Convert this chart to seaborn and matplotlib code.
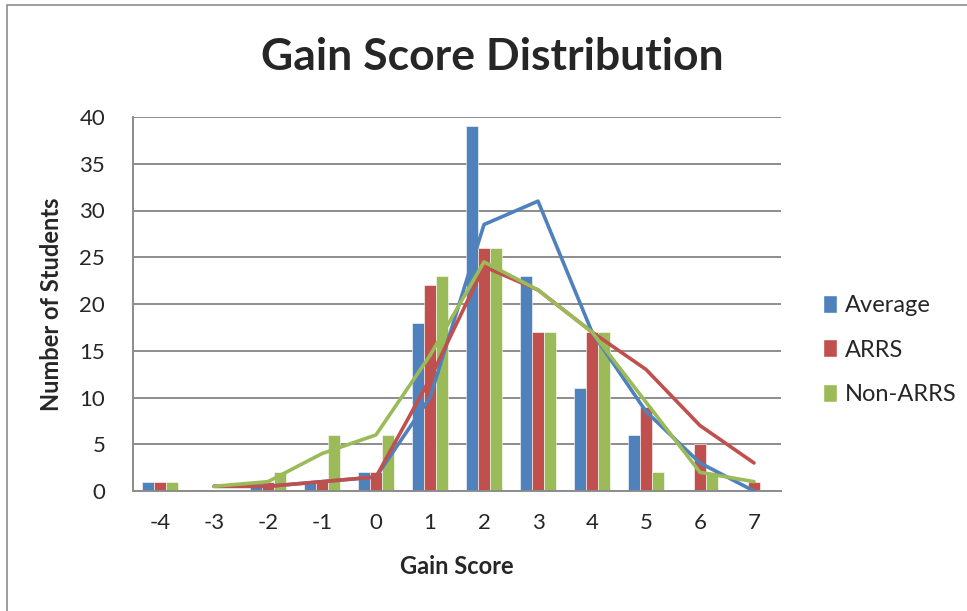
#------------------------------------------------------------------------------
# Libraries
#------------------------------------------------------------------------------

import numpy as np
import pandas as pd
import seaborn as sns
import matplotlib.pyplot as plt
from matplotlib.patches import Patch, Rectangle

#------------------------------------------------------------------------------
# Data
#------------------------------------------------------------------------------

gain_scores = [-4, -3, -2, -1, 0, 1, 2, 3, 4, 5, 6, 7]
average     = [1, 0, 1, 1, 2, 18, 39, 23, 11, 6, 0, 0]
arrs        = [1, 0, 1, 1, 2, 22, 26, 17, 17, 9, 5, 1]
non_arrs    = [1, 0, 2, 6, 6, 23, 26, 17, 17, 2, 2, 0]

groups = ['Average', 'ARRS', 'Non-ARRS']
colors = ['#4F81BD', '#C0504D', '#9BBB59']

#------------------------------------------------------------------------------
# Long format + 2-period moving average trendlines
#------------------------------------------------------------------------------

df = pd.DataFrame({'score': gain_scores,
                   'Average': average,
                   'ARRS': arrs,
                   'Non-ARRS': non_arrs})
long = df.melt(id_vars='score', var_name='group', value_name='count')

trend = df.set_index('score')[groups].rolling(2).mean().reset_index()
trend = trend.melt(id_vars='score', var_name='group', value_name='ma').dropna()

#------------------------------------------------------------------------------
# Plot
#------------------------------------------------------------------------------

sns.set_style('white')
plt.rcParams['font.family'] = ['Lato', 'DejaVu Sans']

fig = plt.figure(figsize=(9.67, 6.11), dpi=100)
ax = fig.add_axes([133/967, 1 - 491/611, (781 - 133)/967, (491 - 117)/611])

sns.barplot(data=long, x='score', y='count', hue='group', hue_order=groups,
            palette=colors, native_scale=True, width=0.67, saturation=1,
            edgecolor='white', linewidth=0.4, legend=False, ax=ax, zorder=2)
sns.lineplot(data=trend, x='score', y='ma', hue='group', hue_order=groups,
             palette=colors, linewidth=2.6, legend=False, ax=ax, zorder=3)

ax.set_xlim(-4.5, 7.5)
ax.set_ylim(0, 40)
ax.set_yticks(range(0, 41, 5))
ax.set_xticks(gain_scores)
ax.set_xticklabels([str(s) for s in gain_scores])
ax.grid(axis='y', color='#8C8C8C', linewidth=1.4, zorder=0)
ax.set_axisbelow(True)
ax.tick_params(axis='x', length=0, pad=16, labelsize=16)
ax.tick_params(axis='y', length=0, pad=20, labelsize=16)

for side in ['top', 'right']:
    ax.spines[side].set_visible(False)
for side in ['left', 'bottom']:
    ax.spines[side].set_color('#8C8C8C')
    ax.spines[side].set_linewidth(1.4)

ax.set_xlabel('Gain Score', fontsize=17, fontweight='bold', labelpad=16)
ax.set_ylabel('Number of Students', fontsize=17, fontweight='bold', labelpad=12)

fig.text(492/967, 1 - 57/611, 'Gain Score Distribution', ha='center', va='center',
         fontsize=32, fontweight='bold')

handles = [Patch(facecolor=c, label=g) for g, c in zip(groups, colors)]
fig.legend(handles=handles, loc='center left', bbox_to_anchor=(802/967, 1 - 350/611),
           frameon=False, fontsize=17, handlelength=0.6, handleheight=0.8,
           handletextpad=0.3, labelspacing=1.0)

# outer chart border
fig.patches.append(Rectangle((7/967, -0.5), 2, 0.5 + 1 - 5/611,
                             transform=fig.transFigure, fill=False,
                             edgecolor='#8C8C8C', linewidth=1.2))

fig.savefig('out.png', dpi=100)
